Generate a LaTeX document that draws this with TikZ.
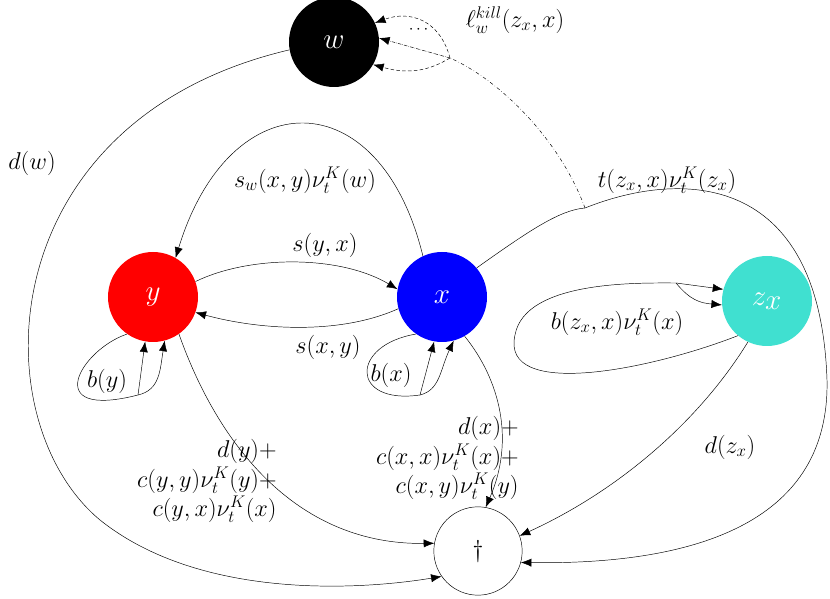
\documentclass[tikz,border=0pt]{standalone}
\usepackage{amsmath}
\usetikzlibrary{arrows.meta}
\definecolor{turq}{RGB}{64,224,208}

\begin{document}
\begin{tikzpicture}[x=0.03cm,y=-0.03cm,>={Latex[length=9pt,width=7pt]},
    state/.style={circle,minimum size=2.7cm,inner sep=0pt,font=\fontsize{40}{44}\selectfont,text=white},
    lbl/.style={font=\huge,inner sep=1pt}]
    \useasboundingbox (0,0) rectangle (830,599);
    \node (w) [state,fill=black] at (334,42) {$w$};
    \node (y) [state,fill=red] at (153,297) {$y$};
    \node (x) [state,fill=blue] at (442,297) {$x$};
    \node (z) [state,fill=turq] at (767,301) {$z_x$};
    \node (dag) [state,draw,text=black,minimum size=2.65cm,font=\huge] at (478,551) {$\dagger$};

    % death of w
    \draw[->] (w.190) .. controls (-10,120) and (-20,420) .. (100,520)
        .. controls (200,600) and (360,590) .. (dag.215);
    \node[lbl] (lw) at (32,163) {$d(w)$};
    % moves
    \draw[->] (x.115) .. controls (380,80) and (230,80) .. (y.60);
    \node[lbl] (lsw) at (305,180) {$s_w(x,y)\nu^K_t(w)$};
    \draw[->] (y.20) .. controls (250,255) and (340,255) .. (x.170);
    \node[lbl] (lyx) at (325,245) {$s(y,x)$};
    \draw[->] (x.195) .. controls (340,335) and (260,330) .. (y.340);
    \node[lbl] (lxy) at (328,347) {$s(x,y)$};
    % births
    \coordinate (by) at (138,395);
    \draw (y.235) .. controls (80,350) and (40,420) .. (by);
    \draw[->] (by) -- (y.260);
    \draw[->] (by) .. controls (160,390) and (160,370) .. (y.285);
    \node[lbl] (lby) at (107,381) {$b(y)$};
    \coordinate (bx) at (420,395);
    \draw (x.235) .. controls (350,345) and (350,405) .. (bx);
    \draw[->] (bx) -- (x.260);
    \draw[->] (bx) .. controls (440,390) and (440,370) .. (x.285);
    \node[lbl] (lbx) at (391,375) {$b(x)$};
    \coordinate (bz) at (676,283);
    \draw (z.230) .. controls (650,370) and (500,400) .. (515,335)
        .. controls (525,280) and (640,283) .. (bz);
    \draw[->] (bz) -- (z.165);
    \draw[->] (bz) .. controls (690,300) and (700,303) .. (z.185);
    \node[lbl] (lbz) at (617,322) {$b(z_x,x)\nu^K_t(x)$};
    % deaths
    \draw[->] (x.300) .. controls (500,380) and (515,440) .. (dag.80);
    \node[lbl,align=right,anchor=east] (ldx) at (520,458) {$d(x)+$\\$c(x,x)\nu^K_t(x)+$\\$c(x,y)\nu^K_t(y)$};
    \draw[->] (y.305) .. controls (220,450) and (300,545) .. (dag.170);
    \node[lbl,align=right,anchor=east] (ldy) at (278,481) {$d(y)+$\\$c(y,y)\nu^K_t(y)+$\\$c(y,x)\nu^K_t(x)$};
    \draw[->] (z.245) .. controls (700,420) and (620,490) .. (dag.20);
    \node[lbl] (ldz) at (730,447) {$d(z_x)$};
    % transfer
    \coordinate (tz) at (585,208);
    \draw[->] (x.40) .. controls (530,230) and (560,210) .. (tz)
        .. controls (680,170) and (820,170) .. (827,380)
        .. controls (830,520) and (700,565) .. (dag.345);
    \node[lbl] (ltz) at (667,180) {$t(z_x,x)\nu^K_t(z_x)$};
    \coordinate (kill) at (450,58);
    \draw[dash dot] (tz) .. controls (560,140) and (500,80) .. (kill);
    \draw[->,densely dashed] (kill) .. controls (440,20) and (410,10) .. (w.25);
    \draw[->,densely dash dot] (kill) -- (w.5);
    \draw[->,densely dashed] (kill) .. controls (430,70) and (410,75) .. (w.330);
    \node[font=\Large] (dots) at (420,30) {$\cdots$};
    \node[lbl] (lkill) at (515,20) {$\ell^{kill}_w(z_x,x)$};
\end{tikzpicture}
\end{document}
